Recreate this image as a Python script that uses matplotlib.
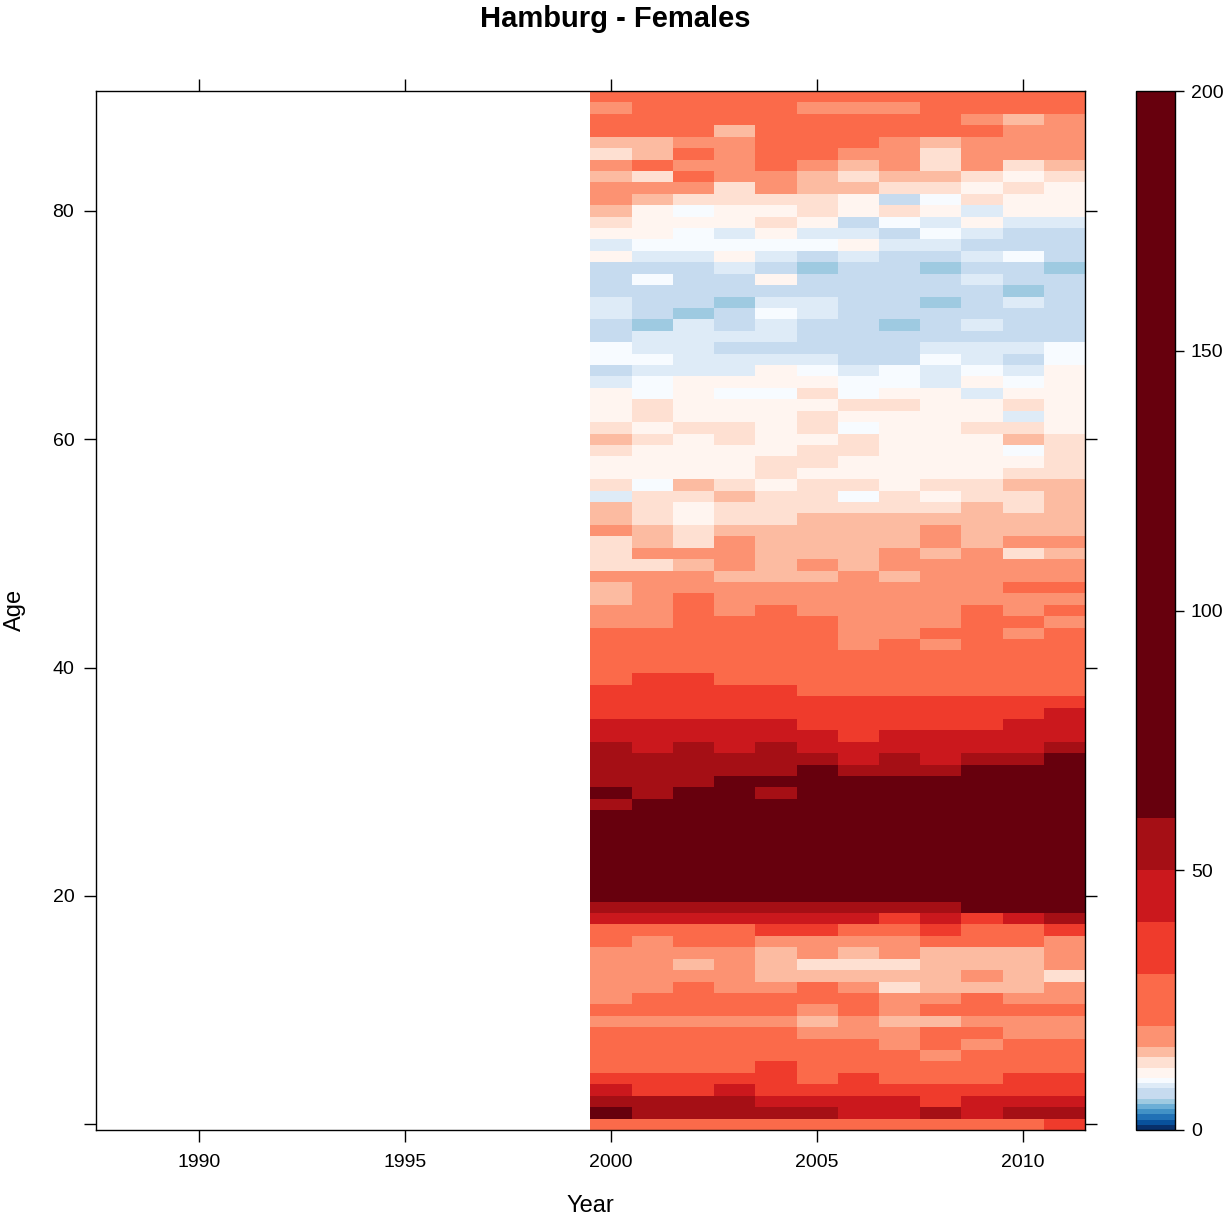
import numpy as np
import matplotlib
matplotlib.use("Agg")
import matplotlib.pyplot as plt
from matplotlib.colors import ListedColormap, BoundaryNorm

plt.rcParams['font.family'] = ['Liberation Sans', 'DejaVu Sans']

years = [2000, 2001, 2002, 2003, 2004, 2005, 2006, 2007, 2008, 2009, 2010, 2011]
ages = list(range(0, 91))

# rates per age (rows, age 0..90) and year (columns 2000..2011)
rates = [
    [25, 25, 25, 25, 25, 25, 25, 25, 25, 25, 25, 35],   # 0
    [80, 55, 55, 55, 55, 55, 45, 45, 55, 45, 55, 55],   # 1
    [55, 55, 55, 55, 45, 45, 45, 45, 35, 45, 45, 45],   # 2
    [45, 35, 35, 45, 35, 35, 35, 35, 35, 35, 35, 35],   # 3
    [35, 35, 35, 35, 35, 25, 35, 25, 25, 25, 35, 35],   # 4
    [25, 25, 25, 25, 35, 25, 25, 25, 25, 25, 25, 25],   # 5
    [25, 25, 25, 25, 25, 25, 25, 25, 18, 25, 25, 25],   # 6
    [25, 25, 25, 25, 25, 25, 25, 18, 25, 18, 25, 25],   # 7
    [25, 25, 25, 25, 25, 18, 18, 18, 25, 25, 18, 18],   # 8
    [18, 18, 18, 18, 18, 15, 18, 15, 15, 18, 18, 18],   # 9
    [25, 25, 25, 25, 25, 18, 25, 18, 25, 25, 25, 25],   # 10
    [18, 25, 25, 25, 25, 25, 25, 18, 18, 25, 18, 18],   # 11
    [18, 18, 25, 18, 18, 25, 18, 13, 15, 15, 15, 18],   # 12
    [18, 18, 18, 18, 15, 15, 15, 15, 15, 18, 15, 13],   # 13
    [18, 18, 15, 18, 15, 13, 13, 13, 15, 15, 15, 18],   # 14
    [18, 18, 18, 18, 15, 18, 15, 18, 15, 15, 15, 18],   # 15
    [25, 18, 25, 25, 18, 18, 18, 18, 25, 25, 25, 18],   # 16
    [25, 25, 25, 25, 35, 35, 25, 25, 35, 25, 25, 35],   # 17
    [45, 45, 45, 45, 45, 45, 45, 35, 45, 35, 45, 55],   # 18
    [55, 55, 55, 55, 55, 55, 55, 55, 55, 80, 80, 80],   # 19
    [80, 80, 80, 80, 80, 80, 80, 80, 80, 80, 80, 80],   # 20
    [80, 80, 80, 80, 80, 80, 80, 80, 80, 80, 80, 80],   # 21
    [80, 80, 80, 80, 80, 80, 80, 80, 80, 80, 80, 80],   # 22
    [80, 80, 80, 80, 80, 80, 80, 80, 80, 80, 80, 80],   # 23
    [80, 80, 80, 80, 80, 80, 80, 80, 80, 80, 80, 80],   # 24
    [80, 80, 80, 80, 80, 80, 80, 80, 80, 80, 80, 80],   # 25
    [80, 80, 80, 80, 80, 80, 80, 80, 80, 80, 80, 80],   # 26
    [80, 80, 80, 80, 80, 80, 80, 80, 80, 80, 80, 80],   # 27
    [55, 80, 80, 80, 80, 80, 80, 80, 80, 80, 80, 80],   # 28
    [80, 55, 80, 80, 55, 80, 80, 80, 80, 80, 80, 80],   # 29
    [55, 55, 55, 80, 80, 80, 80, 80, 80, 80, 80, 80],   # 30
    [55, 55, 55, 55, 55, 80, 55, 55, 55, 80, 80, 80],   # 31
    [55, 55, 55, 55, 55, 55, 45, 55, 45, 55, 55, 80],   # 32
    [55, 45, 55, 45, 55, 45, 45, 45, 45, 45, 45, 55],   # 33
    [45, 45, 45, 45, 45, 45, 35, 45, 45, 45, 45, 45],   # 34
    [45, 45, 45, 45, 45, 35, 35, 35, 35, 35, 45, 45],   # 35
    [35, 35, 35, 35, 35, 35, 35, 35, 35, 35, 35, 45],   # 36
    [35, 35, 35, 35, 35, 35, 35, 35, 35, 35, 35, 35],   # 37
    [35, 35, 35, 35, 35, 25, 25, 25, 25, 25, 25, 25],   # 38
    [25, 35, 35, 25, 25, 25, 25, 25, 25, 25, 25, 25],   # 39
    [25, 25, 25, 25, 25, 25, 25, 25, 25, 25, 25, 25],   # 40
    [25, 25, 25, 25, 25, 25, 25, 25, 25, 25, 25, 25],   # 41
    [25, 25, 25, 25, 25, 25, 18, 25, 18, 25, 25, 25],   # 42
    [25, 25, 25, 25, 25, 25, 18, 18, 25, 25, 18, 25],   # 43
    [18, 18, 25, 25, 25, 25, 18, 18, 18, 25, 25, 18],   # 44
    [18, 18, 25, 18, 25, 18, 18, 18, 18, 25, 18, 25],   # 45
    [15, 18, 25, 18, 18, 18, 18, 18, 18, 18, 18, 18],   # 46
    [15, 18, 18, 18, 18, 18, 18, 18, 18, 18, 25, 25],   # 47
    [18, 18, 18, 15, 15, 15, 18, 15, 18, 18, 18, 18],   # 48
    [13, 13, 15, 18, 15, 18, 15, 18, 18, 18, 18, 18],   # 49
    [13, 18, 18, 18, 15, 15, 15, 18, 15, 18, 13, 15],   # 50
    [13, 15, 13, 18, 15, 15, 15, 15, 18, 15, 18, 18],   # 51
    [18, 15, 13, 15, 15, 15, 15, 15, 18, 15, 15, 15],   # 52
    [15, 13, 11, 13, 13, 15, 15, 15, 15, 15, 15, 15],   # 53
    [15, 13, 11, 13, 13, 13, 13, 13, 13, 15, 13, 15],   # 54
    [8.5, 13, 13, 15, 13, 13, 9.5, 13, 11, 13, 13, 15],  # 55
    [13, 9.5, 15, 13, 11, 13, 13, 11, 13, 13, 15, 15],  # 56
    [11, 11, 11, 11, 13, 11, 11, 11, 11, 11, 13, 13],   # 57
    [11, 11, 11, 11, 13, 13, 11, 11, 11, 11, 11, 13],   # 58
    [13, 11, 11, 11, 11, 13, 13, 11, 11, 11, 9.5, 13],  # 59
    [15, 13, 11, 13, 11, 11, 13, 11, 11, 11, 15, 13],   # 60
    [13, 11, 13, 13, 11, 13, 9.5, 11, 11, 13, 13, 11],  # 61
    [11, 13, 11, 11, 11, 13, 11, 11, 11, 11, 8.5, 11],  # 62
    [11, 13, 11, 11, 11, 11, 13, 13, 11, 11, 13, 11],   # 63
    [11, 9.5, 11, 9.5, 9.5, 13, 9.5, 11, 11, 8.5, 11, 11],  # 64
    [8.5, 9.5, 11, 11, 11, 11, 9.5, 9.5, 8.5, 11, 9.5, 11],  # 65
    [7, 8.5, 8.5, 8.5, 11, 9.5, 8.5, 9.5, 8.5, 9.5, 8.5, 11],  # 66
    [9.5, 9.5, 8.5, 8.5, 8.5, 8.5, 7, 7, 9.5, 8.5, 7, 9.5],  # 67
    [9.5, 8.5, 8.5, 7, 7, 7, 7, 7, 8.5, 8.5, 8.5, 9.5],  # 68
    [7, 8.5, 8.5, 8.5, 8.5, 7, 7, 7, 7, 7, 7, 7],       # 69
    [7, 5.5, 8.5, 7, 8.5, 7, 7, 5.5, 7, 8.5, 7, 7],     # 70
    [8.5, 7, 5.5, 7, 9.5, 8.5, 7, 7, 7, 7, 7, 7],       # 71
    [8.5, 7, 7, 5.5, 8.5, 8.5, 7, 7, 5.5, 7, 8.5, 7],   # 72
    [7, 7, 7, 7, 7, 7, 7, 7, 7, 7, 5.5, 7],             # 73
    [7, 9.5, 7, 7, 11, 7, 7, 7, 7, 8.5, 7, 7],          # 74
    [7, 7, 7, 8.5, 7, 5.5, 7, 7, 5.5, 7, 7, 5.5],       # 75
    [11, 8.5, 8.5, 11, 8.5, 7, 8.5, 7, 7, 8.5, 9.5, 7],  # 76
    [8.5, 9.5, 9.5, 9.5, 9.5, 9.5, 11, 8.5, 8.5, 7, 7, 7],  # 77
    [11, 11, 9.5, 8.5, 11, 8.5, 8.5, 7, 9.5, 8.5, 7, 7],  # 78
    [13, 11, 11, 11, 13, 11, 7, 9.5, 8.5, 11, 8.5, 8.5],  # 79
    [15, 11, 9.5, 11, 11, 13, 11, 13, 11, 8.5, 11, 11],  # 80
    [18, 15, 13, 13, 13, 13, 11, 7, 9.5, 13, 11, 11],    # 81
    [18, 18, 18, 13, 18, 15, 15, 13, 13, 11, 13, 11],    # 82
    [15, 13, 25, 18, 18, 15, 13, 15, 15, 13, 11, 13],    # 83
    [18, 25, 18, 18, 25, 18, 15, 18, 13, 18, 13, 15],    # 84
    [13, 15, 25, 18, 25, 25, 18, 18, 13, 18, 18, 18],    # 85
    [15, 15, 18, 18, 25, 25, 25, 18, 15, 18, 18, 18],    # 86
    [25, 25, 25, 15, 25, 25, 25, 25, 25, 25, 18, 18],    # 87
    [25, 25, 25, 25, 25, 25, 25, 25, 25, 18, 15, 18],    # 88
    [18, 25, 25, 25, 25, 18, 18, 18, 25, 25, 25, 25],    # 89
    [25, 25, 25, 25, 25, 25, 25, 25, 25, 25, 25, 25],    # 90
]

level_breaks = [0, 1, 2, 3, 4, 5, 6, 8, 9, 10, 12, 14, 16, 20, 30, 40, 50, 60, 200]
level_colors = ['#08306b', '#08519c', '#2171b5', '#4292c6', '#6baed6', '#9ecae1',
                '#c6dbef', '#deebf7', '#f7fbff',
                '#fff5f0', '#fee0d2', '#fcbba1', '#fc9272', '#fb6a4a', '#ef3b2c',
                '#cb181d', '#a50f15', '#67000d']

cmap = ListedColormap(level_colors)
norm = BoundaryNorm(level_breaks, cmap.N)

W, H = 1228, 1220
fig = plt.figure(figsize=(W / 100, H / 100), dpi=100)

L, R, T, B = 96, 1085, 91, 1130
ax = fig.add_axes([L / W, 1 - B / H, (R - L) / W, (B - T) / H])

yrs = np.array(years, dtype=float)
ag = np.array(ages, dtype=float)
x_edges = np.concatenate([yrs - 0.5, [yrs[-1] + 0.5]])
y_edges = np.concatenate([ag - 0.5, [ag[-1] + 0.5]])
Z = np.array(rates, dtype=float)
ax.pcolormesh(x_edges, y_edges, Z, cmap=cmap, norm=norm, edgecolors='none',
              antialiased=False, shading='flat')

ax.set_xlim(1987.5, 2011.5)
ax.set_ylim(-0.5, 90.5)
ax.set_xticks([1990, 1995, 2000, 2005, 2010])
ax.set_xticklabels(['1990', '1995', '2000', '2005', '2010'])
ax.set_yticks([0, 20, 40, 60, 80])
ax.set_yticklabels(['', '20', '40', '60', '80'])
ax.tick_params(axis='both', which='major', direction='out', length=8.6, width=1.0,
               labelsize=14, top=True, right=True, labeltop=False, labelright=False)
ax.tick_params(axis='x', pad=9)
ax.tick_params(axis='y', pad=7)
for s in ax.spines.values():
    s.set_linewidth(1.0)

fig.text(615 / W, 1 - 19 / H, 'Hamburg - Females', ha='center', va='center',
         fontsize=21, fontweight='bold')
fig.text((L + R) / 2 / W, 1 - 1206 / H, 'Year', ha='center', va='center', fontsize=17)
fig.text(15 / W, 1 - 610 / H, 'Age', ha='center', va='center', rotation=90, fontsize=17)

# colour key
cax = fig.add_axes([1136 / W, 1 - B / H, 39 / W, (B - T) / H])
sm = matplotlib.cm.ScalarMappable(norm=norm, cmap=cmap)
cb = fig.colorbar(sm, cax=cax, spacing='proportional', ticks=[0, 50, 100, 150, 200])
cb.ax.set_ylim(0, 200)
cb.ax.minorticks_off()
cb.ax.tick_params(which='minor', length=0)
cb.ax.tick_params(which='major', direction='out', length=6.5, width=1.0, labelsize=14, pad=5)
cb.outline.set_linewidth(1.0)

fig.savefig('out.png', dpi=100)
